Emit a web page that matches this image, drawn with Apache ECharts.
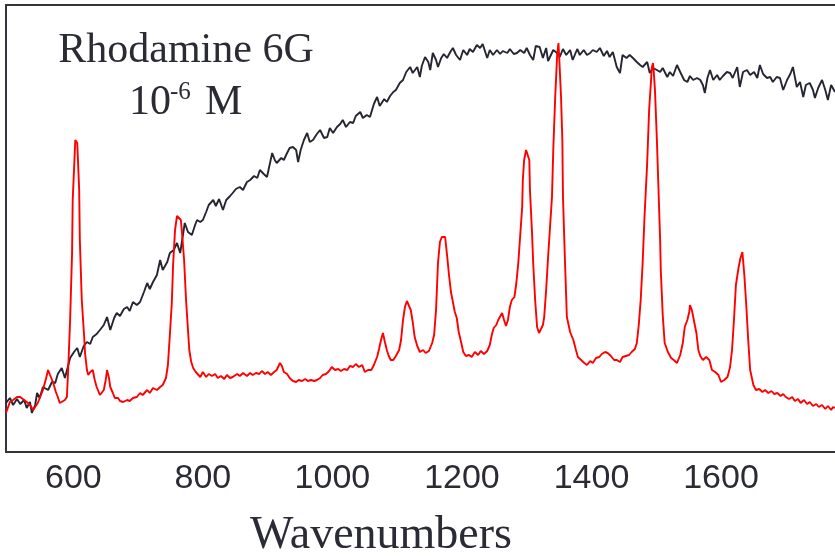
<!DOCTYPE html>
<html lang="en">

<head>
  <meta charset="utf-8">
  <script src="https://cdn.jsdelivr.net/npm/echarts@6.0.0/dist/echarts.min.js"></script>
  <style>
    html, body { margin: 0; padding: 0; background: #fff; }
  </style>
</head>

<body>
  <div id="ramanChart" style="width: 835px;height:558px;"></div>

  <script type="text/javascript">

    // tick labels on the wavenumber axis
    var tickLabels = [600, 800, 1000, 1200, 1400, 1600];

    // black trace (broad fluorescence background)
    var blackWn = [496, 502, 507, 513, 518, 524, 528, 533, 536, 541, 544, 548, 553, 561, 567, 572, 576, 582, 587, 595,
      601, 606, 610, 616, 621, 626, 630, 636, 641, 647, 652, 657, 663, 667, 672, 678, 683, 687, 692, 698,
      703, 709, 714, 718, 723, 729, 734, 738, 745, 749, 755, 760, 765, 772, 777, 783, 788, 791, 796, 800,
      805, 809, 816, 820, 825, 831, 836, 842, 846, 851, 857, 862, 868, 873, 879, 884, 888, 894, 899, 904,
      907, 911, 914, 921, 925, 930, 934, 939, 944, 947, 951, 956, 961, 965, 970, 976, 981, 987, 992, 996,
      1001, 1007, 1012, 1016, 1021, 1027, 1032, 1036, 1043, 1047, 1053, 1058, 1064, 1069, 1073, 1080, 1084, 1089, 1094, 1098,
      1104, 1109, 1114, 1120, 1124, 1131, 1135, 1138, 1143, 1148, 1151, 1155, 1160, 1163, 1168, 1172, 1177, 1182, 1186, 1191,
      1197, 1202, 1208, 1212, 1217, 1223, 1228, 1232, 1239, 1243, 1248, 1254, 1259, 1263, 1270, 1274, 1280, 1285, 1290, 1296,
      1300, 1305, 1310, 1314, 1320, 1325, 1330, 1333, 1336, 1341, 1345, 1351, 1356, 1361, 1367, 1371, 1378, 1382, 1388, 1393,
      1398, 1402, 1408, 1413, 1419, 1424, 1428, 1433, 1439, 1444, 1448, 1454, 1459, 1464, 1470, 1475, 1479, 1486, 1490, 1495,
      1501, 1506, 1510, 1517, 1521, 1526, 1532, 1537, 1543, 1548, 1552, 1557, 1563, 1568, 1572, 1575, 1579, 1583, 1588, 1594,
      1598, 1603, 1609, 1614, 1618, 1625, 1629, 1634, 1640, 1645, 1651, 1656, 1660, 1665, 1671, 1676, 1680, 1686, 1691, 1696,
      1702, 1707, 1711, 1717, 1722, 1727, 1731, 1737, 1742, 1745, 1750, 1756, 1761, 1765, 1770, 1773, 1776];
    var blackVal = [49, 54, 47, 53, 48, 52, 44, 50, 39, 47, 59, 54, 65, 62, 70, 69, 78, 84, 74, 94,
      100, 104, 95, 106, 110, 108, 115, 118, 122, 127, 135, 122, 134, 139, 136, 143, 145, 141, 150, 147,
      150, 160, 169, 163, 170, 177, 192, 182, 190, 199, 202, 209, 199, 229, 220, 217, 227, 232, 230, 232,
      240, 247, 252, 246, 253, 242, 252, 256, 259, 263, 265, 262, 270, 272, 276, 274, 282, 278, 275, 290,
      299, 292, 289, 294, 292, 299, 304, 305, 302, 290, 302, 312, 319, 310, 312, 318, 322, 314, 315, 324,
      319, 325, 328, 332, 325, 330, 329, 336, 340, 334, 337, 335, 348, 355, 346, 353, 350, 356, 360, 362,
      369, 372, 380, 385, 379, 385, 375, 386, 395, 390, 382, 399, 392, 385, 394, 398, 394, 400, 404, 397,
      392, 402, 397, 403, 400, 407, 404, 408, 394, 402, 397, 402, 398, 401, 399, 403, 398, 399, 402, 399,
      404, 397, 392, 406, 405, 394, 404, 391, 389, 402, 400, 395, 403, 397, 402, 392, 403, 397, 402, 397,
      399, 402, 400, 404, 396, 401, 395, 400, 385, 379, 397, 394, 397, 394, 390, 387, 385, 390, 379, 384,
      382, 380, 384, 375, 380, 376, 387, 380, 372, 370, 376, 372, 374, 372, 367, 359, 374, 382, 372, 377,
      372, 376, 380, 379, 374, 385, 365, 380, 382, 377, 380, 374, 387, 378, 374, 375, 370, 375, 374, 362,
      372, 378, 385, 365, 370, 355, 367, 369, 362, 354, 364, 372, 362, 352, 367, 365, 360];

    // red trace (SERS spectrum)
    var redWn = [496, 502, 507, 513, 518, 524, 528, 533, 538, 542, 545, 550, 553, 558, 561, 564, 569, 573, 576, 579,
      582, 587, 590, 592, 595, 598, 599, 603, 606, 609, 610, 613, 617, 618, 621, 623, 626, 630, 633, 636,
      641, 644, 647, 650, 652, 655, 657, 661, 664, 669, 672, 677, 683, 687, 692, 698, 703, 707, 714, 718,
      723, 729, 734, 738, 743, 746, 749, 752, 754, 757, 760, 763, 766, 768, 771, 774, 779, 782, 785, 789,
      796, 800, 805, 809, 814, 819, 823, 828, 833, 837, 842, 846, 853, 857, 862, 868, 873, 877, 882, 887,
      891, 896, 900, 905, 910, 914, 919, 922, 925, 930, 934, 939, 944, 948, 953, 958, 962, 967, 972, 976,
      981, 985, 990, 995, 999, 1004, 1009, 1013, 1018, 1023, 1027, 1032, 1036, 1041, 1046, 1050, 1055, 1060, 1064, 1069,
      1072, 1075, 1078, 1081, 1084, 1087, 1090, 1094, 1098, 1103, 1106, 1109, 1112, 1115, 1118, 1121, 1124, 1127, 1131, 1135,
      1140, 1144, 1149, 1154, 1157, 1160, 1163, 1166, 1169, 1174, 1177, 1180, 1183, 1186, 1189, 1192, 1195, 1199, 1202, 1206,
      1211, 1215, 1220, 1225, 1229, 1234, 1239, 1243, 1246, 1249, 1253, 1256, 1259, 1262, 1265, 1268, 1271, 1274, 1277, 1281,
      1284, 1287, 1290, 1293, 1294, 1296, 1299, 1302, 1304, 1305, 1308, 1310, 1313, 1316, 1319, 1322, 1325, 1327, 1330, 1333,
      1336, 1339, 1341, 1344, 1347, 1349, 1350, 1353, 1355, 1356, 1359, 1362, 1367, 1372, 1376, 1379, 1384, 1389, 1393, 1398,
      1402, 1407, 1412, 1416, 1421, 1425, 1430, 1435, 1439, 1444, 1448, 1453, 1458, 1462, 1467, 1470, 1473, 1476, 1479, 1482,
      1486, 1489, 1492, 1493, 1495, 1496, 1498, 1501, 1503, 1506, 1507, 1510, 1513, 1518, 1523, 1527, 1532, 1537, 1541, 1544,
      1548, 1551, 1552, 1555, 1558, 1562, 1565, 1568, 1572, 1577, 1582, 1586, 1591, 1596, 1600, 1605, 1610, 1614, 1617, 1620,
      1623, 1627, 1630, 1633, 1636, 1639, 1642, 1645, 1650, 1654, 1659, 1664, 1668, 1673, 1678, 1682, 1687, 1692, 1696, 1700,
      1705, 1710, 1714, 1719, 1723, 1728, 1733, 1737, 1742, 1747, 1751, 1756, 1761, 1765, 1770, 1773, 1776];
    var redVal = [39, 50, 52, 55, 55, 52, 50, 47, 42, 46, 49, 57, 62, 74, 82, 77, 69, 60, 55, 49,
      47, 52, 55, 82, 132, 199, 252, 312, 309, 262, 212, 152, 112, 99, 82, 77, 80, 82, 72, 65,
      57, 59, 62, 72, 82, 74, 65, 59, 54, 54, 51, 50, 52, 51, 54, 55, 59, 57, 62, 59,
      64, 62, 65, 67, 74, 87, 117, 149, 187, 222, 236, 237, 232, 217, 192, 152, 102, 90, 84, 80,
      75, 80, 75, 78, 76, 78, 74, 76, 73, 77, 74, 75, 78, 76, 79, 76, 79, 77, 79, 78,
      81, 78, 80, 77, 80, 82, 89, 86, 80, 78, 74, 71, 70, 72, 71, 73, 71, 72, 71, 72,
      74, 77, 78, 81, 85, 82, 83, 81, 83, 82, 86, 85, 88, 85, 87, 80, 82, 82, 87, 95,
      103, 112, 119, 110, 102, 96, 92, 92, 96, 102, 112, 132, 145, 151, 150, 142, 130, 115, 106, 100,
      102, 99, 101, 109, 117, 142, 189, 210, 215, 215, 197, 177, 160, 150, 140, 134, 120, 109, 100, 96,
      97, 95, 100, 97, 101, 98, 101, 107, 117, 124, 127, 132, 134, 139, 132, 126, 132, 145, 152, 155,
      169, 189, 217, 245, 272, 292, 302, 302, 292, 262, 222, 189, 152, 125, 119, 117, 127, 135, 162, 195,
      225, 255, 302, 355, 397, 409, 397, 355, 312, 255, 192, 135, 120, 112, 102, 95, 92, 89, 87, 91,
      89, 94, 95, 98, 100, 99, 96, 92, 92, 90, 95, 96, 97, 100, 103, 109, 127, 152, 189, 237,
      289, 342, 372, 384, 389, 382, 362, 312, 272, 212, 182, 137, 109, 100, 94, 92, 89, 97, 109, 125,
      132, 140, 147, 142, 132, 119, 102, 96, 92, 95, 92, 82, 80, 77, 70, 72, 75, 85, 102, 132,
      167, 184, 194, 200, 177, 147, 112, 82, 67, 62, 63, 60, 62, 59, 61, 58, 59, 56, 58, 55,
      53, 55, 51, 53, 49, 52, 48, 50, 46, 48, 45, 47, 43, 46, 42, 45, 44];

    function pairs(xs, ys) {
        return xs.map(function (x, i) { return [x, ys[i]]; });
    }

    function createRamanChart() {
        const chart = echarts.init(document.getElementById("ramanChart"));

        var serif = '"Liberation Serif", "Times New Roman", serif';
        var frame = { show: true, onZero: false, lineStyle: { color: '#34343f', width: 2 } };

        var option = {
            animation: false,
            grid: {
                left: 6,
                top: 5,
                right: 0,
                bottom: 106
            },
            xAxis: [
                {
                    type: 'value',
                    position: 'bottom',
                    min: 496,
                    max: 1776,
                    axisLine: frame,
                    axisTick: { show: false },
                    splitLine: { show: false },
                    axisLabel: {
                        customValues: tickLabels,
                        formatter: function (v) { return String(v); },
                        margin: 10,
                        fontFamily: 'Liberation Sans, Arial, sans-serif',
                        fontSize: 34,
                        color: '#2b2b35'
                    }
                },
                {
                    type: 'value',
                    position: 'top',
                    min: 496,
                    max: 1776,
                    axisLine: frame,
                    axisTick: { show: false },
                    axisLabel: { show: false },
                    splitLine: { show: false }
                }
            ],
            yAxis: {
                type: 'value',
                min: 0,
                max: 447,
                axisLine: frame,
                axisTick: { show: false },
                axisLabel: { show: false },
                splitLine: { show: false }
            },
            graphic: [
                {
                    type: 'text',
                    x: 186,
                    y: 51,
                    style: {
                        text: 'Rhodamine 6G',
                        font: '42px ' + serif,
                        fill: '#2b2b35',
                        align: 'center',
                        verticalAlign: 'middle'
                    }
                },
                {
                    type: 'text',
                    x: 129,
                    y: 103,
                    style: {
                        text: '10',
                        font: '42px ' + serif,
                        fill: '#2b2b35',
                        align: 'left',
                        verticalAlign: 'middle'
                    }
                },
                {
                    type: 'text',
                    x: 170,
                    y: 92,
                    style: {
                        text: '-6',
                        font: '25px ' + serif,
                        fill: '#2b2b35',
                        align: 'left',
                        verticalAlign: 'middle'
                    }
                },
                {
                    type: 'text',
                    x: 205,
                    y: 103,
                    style: {
                        text: 'M',
                        font: '42px ' + serif,
                        fill: '#2b2b35',
                        align: 'left',
                        verticalAlign: 'middle'
                    }
                },
                {
                    type: 'text',
                    x: 381,
                    y: 536,
                    style: {
                        text: 'Wavenumbers',
                        font: '46px ' + serif,
                        fill: '#2b2b35',
                        align: 'center',
                        verticalAlign: 'middle'
                    }
                }
            ],
            series: [
                {
                    name: 'background',
                    type: 'line',
                    showSymbol: false,
                    data: pairs(blackWn, blackVal),
                    lineStyle: { color: '#262633', width: 1.9 },
                    z: 2
                },
                {
                    name: 'SERS',
                    type: 'line',
                    showSymbol: false,
                    data: pairs(redWn, redVal),
                    lineStyle: { color: '#ff0000', width: 1.9 },
                    z: 3
                }
            ]
        };

        chart.setOption(option);
    }
    createRamanChart();
  </script>
</body>

</html>
